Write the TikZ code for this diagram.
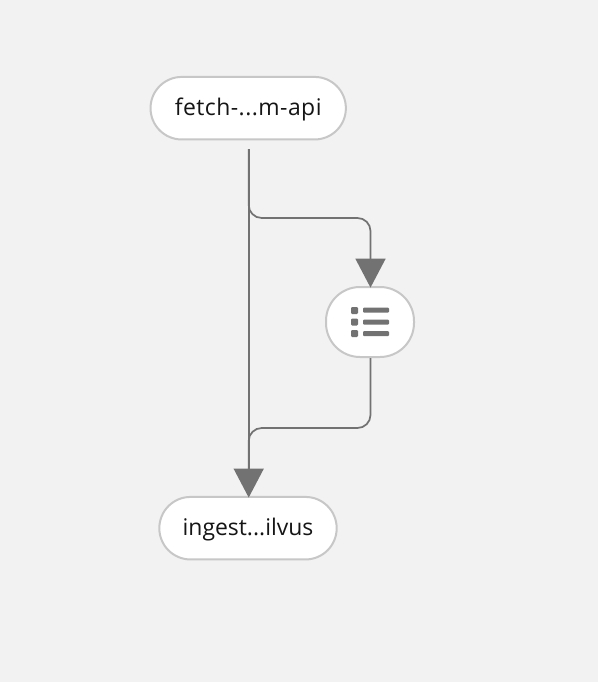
\documentclass[tikz,border=0pt]{standalone}
\usepackage{fontspec}
\setmainfont{Open Sans}
\usetikzlibrary{arrows.meta}
\definecolor{bgc}{HTML}{F2F2F2}
\definecolor{edgec}{HTML}{727272}
\definecolor{borderc}{HTML}{C7C7C7}
\definecolor{textc}{HTML}{151515}
\tikzset{
  x=0.75pt,y=-0.75pt,
  pill/.style={draw=borderc,line width=1.5pt,fill=white,rounded corners=23.4pt,inner sep=0pt,
    minimum height=46.9pt,text=textc,font=\fontsize{17.2pt}{20pt}\selectfont},
  iconpill/.style={draw=borderc,line width=1.5pt,fill=white,rounded corners=25.5pt,inner sep=0pt,
    minimum width=66pt,minimum height=52.5pt},
  flow/.style={draw=edgec,line width=1.3pt,rounded corners=9.75pt},
  flowarrow/.style={flow,shorten >=-1.2pt,-{Triangle[length=21.75pt,width=22.5pt,color=edgec]}},
  glyph/.style={fill=edgec,rounded corners=0.8pt}
}
\begin{document}
\begin{tikzpicture}
\fill[bgc] (0,0) rectangle (598,682);
\useasboundingbox (0,0) rectangle (598,682);
\node[pill,minimum width=146.5pt] (fetch) at (248.2,108.2) {\raisebox{-5.3pt}[0pt][0pt]{\addfontfeature{LetterSpace=2}fetch-...m-api}};
\node[pill,minimum width=133pt] (ingest) at (248,528.2) {\raisebox{-5.3pt}[0pt][0pt]{ingest...ilvus}};
\node[iconpill] (list) at (370,322) {};
\coordinate (start) at (248.7,149);
\coordinate (split) at (248.7,218);
\coordinate (merge) at (248.7,428);
\coordinate (listin) at (370.5,218);
\coordinate (listout) at (370.5,428);
\draw[flowarrow] (start) -- (start |- ingest.north);
\draw[flowarrow] (start) -- (split) -- (listin) -- (listin |- list.north);
\draw[flow] (listout |- list.south) -- (listout) -- (merge) -- (248.7,470);
\fill[glyph] (351,307) rectangle (358,314);
\fill[glyph] (351,318.5) rectangle (358,325.5);
\fill[glyph] (351,330) rectangle (358,337);
\fill[glyph] (363,307.5) rectangle (389,312.7);
\fill[glyph] (363,319.5) rectangle (389,324.7);
\fill[glyph] (363,331) rectangle (389,336.2);
\end{tikzpicture}
\end{document}
